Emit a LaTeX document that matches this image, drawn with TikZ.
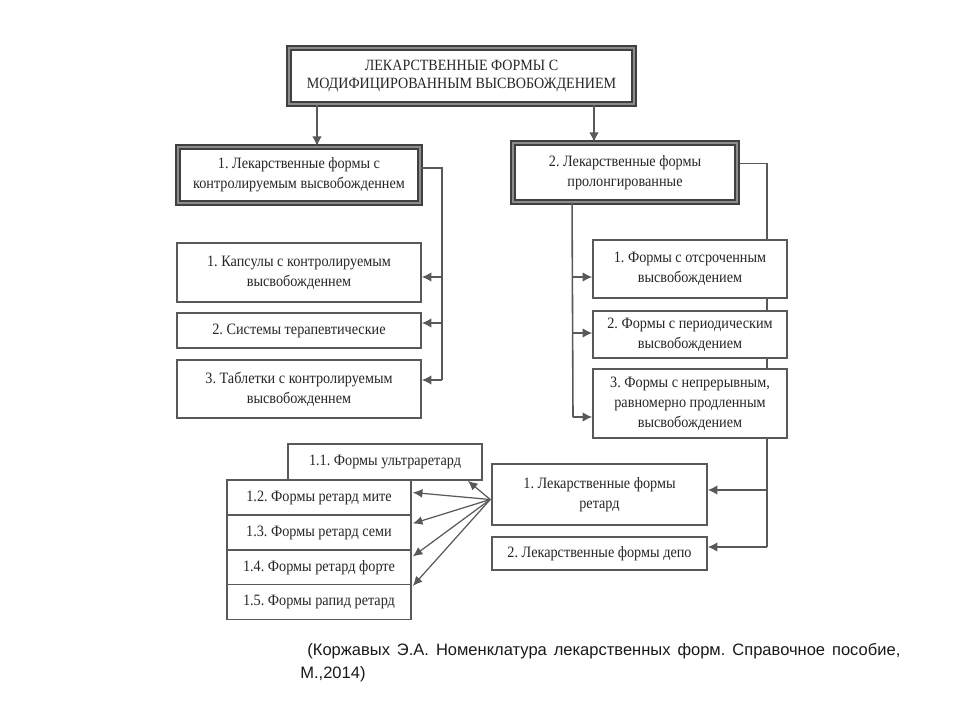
\documentclass[tikz,border=0pt]{standalone}
\usepackage{fontspec}
\setmainfont[FakeStretch=0.9]{Liberation Serif}
\newfontfamily\capfont{Liberation Sans}
\usetikzlibrary{arrows.meta,%
                calc,%
                backgrounds}
\frenchspacing

\begin{document}
\begin{tikzpicture}[x=0.2mm,y=-0.2mm]
		\tikzstyle{HeadStyle}=[draw=black!75,line width=1.1pt,double=black!45,double distance=1pt,fill=white,align=center,text=black!85,inner sep=1pt]
		\tikzstyle{BoxStyle}=[draw=black!65,line width=0.9pt,fill=white,align=center,text=black!85,inner sep=1pt,font=\fontsize{9}{11.4}\selectfont]
		\tikzstyle{EdgeStyle}=[draw=black!65,line width=0.9pt]
		\tikzstyle{ArrowStyle}=[EdgeStyle,-{Latex[length=5.5pt,width=5.5pt]}]
		\tikzstyle{FanStyle}=[draw=black!65,line width=0.7pt,-{Latex[length=5.5pt,width=5pt]}]
		\useasboundingbox (0,0) rectangle (960,720);
		\node[HeadStyle,minimum width=69mm,minimum height=11.2mm,font=\fontsize{8.9}{10.4}\selectfont] (M) at (461.5,76) {ЛЕКАРСТВЕННЫЕ ФОРМЫ С\\МОДИФИЦИРОВАННЫМ ВЫСВОБОЖДЕНИЕМ};
		\node[HeadStyle,minimum width=48.4mm,minimum height=11.2mm,font=\fontsize{9}{11.4}\selectfont] (K) at (299,175) {1. Лекарственные формы с\\контролируемым высвобожденнем};
		\node[HeadStyle,minimum width=44.8mm,minimum height=11.8mm,font=\fontsize{9}{11.4}\selectfont] (P) at (625,172.5) {2. Лекарственные формы\\пролонгированные};
		% controlled release
		\node[BoxStyle,minimum width=48.8mm,minimum height=11.8mm] (K1) at (299,272.5) {1. Капсулы с контролируемым\\высвобожденнем};
		\node[BoxStyle,minimum width=48.8mm,minimum height=7mm] (K2) at (299,330.5) {2. Системы терапевтические};
		\node[BoxStyle,minimum width=48.8mm,minimum height=11.6mm] (K3) at (299,389) {3. Таблетки с контролируемым\\высвобожденнем};
		% prolonged
		\node[BoxStyle,minimum width=38.8mm,minimum height=11.6mm] (P1) at (690,269) {1. Формы с отсроченным\\высвобождением};
		\node[BoxStyle,minimum width=38.8mm,minimum height=9.4mm] (P2) at (690,334.5) {2. Формы с периодическим\\высвобождением};
		\node[BoxStyle,minimum width=38.8mm,minimum height=13.8mm] (P3) at (690,403.5) {3. Формы с непрерывным,\\равномерно продленным\\высвобождением};
		\node[BoxStyle,minimum width=43mm,minimum height=12.2mm] (R) at (599.5,494.5) {1. Лекарственные формы\\ретард};
		\node[BoxStyle,minimum width=43mm,minimum height=6.6mm] (D) at (599.5,553.5) {2. Лекарственные формы депо};
		% retard
		\node[BoxStyle,minimum width=38.8mm,minimum height=7.2mm] (R1) at (385,462) {1.1. Формы ультраретард};
		\node[BoxStyle,minimum width=36.8mm,minimum height=7mm] (R2) at (319,497.5) {1.2. Формы ретард мите};
		\node[BoxStyle,minimum width=36.8mm,minimum height=7mm] (R3) at (319,532.5) {1.3. Формы ретард семи};
		\node[BoxStyle,minimum width=36.8mm,minimum height=7mm] (R4) at (319,567.5) {1.4. Формы ретард форте};
		\node[BoxStyle,minimum width=36.8mm,minimum height=7mm] (R5) at (319,602) {1.5. Формы рапид ретард};
		\draw[ArrowStyle] (M.south -| 317,0) -- (K.north -| 317,0);
		\draw[ArrowStyle] (M.south -| 594,0) -- (P.north -| 594,0);
		\coordinate (k1) at (442,277);
		\coordinate (k2) at (442,323);
		\coordinate (k3) at (442,380);
		\draw[EdgeStyle] ($(K.east)+(0,-7)$) -| (k3);
		\draw[ArrowStyle] (k1) -- (k1 -| K1.east);
		\draw[ArrowStyle] (k2) -- (k2 -| K2.east);
		\draw[ArrowStyle] (k3) -- (k3 -| K3.east);
		\coordinate (p1) at (573,277);
		\coordinate (p2) at (573,333);
		\coordinate (p3) at (573,417);
		\draw[EdgeStyle] ($(P.south west)+(60,0)$) -- (p3);
		\draw[ArrowStyle] (p1) -- (p1 -| P1.west);
		\draw[ArrowStyle] (p2) -- (p2 -| P2.west);
		\draw[ArrowStyle] (p3) -- (p3 -| P3.west);
		\coordinate (r1) at (767,490);
		\coordinate (r2) at (767,547);
		\begin{scope}[on background layer]
			\draw[EdgeStyle] ($(P.east)+(0,-9)$) -| (r2);
		\end{scope}
		\draw[ArrowStyle] (r1) -- (r1 -| R.east);
		\draw[ArrowStyle] (r2) -- (r2 -| D.east);
		\coordinate (f) at ($(R.west)+(-1,5)$);
		\draw[FanStyle] (f) -- ($(R1.south east)+(-15,0)$);
		\draw[FanStyle] (f) -- ($(R2.east)+(1,-5)$);
		\draw[FanStyle] (f) -- ($(R3.east)+(1,-9)$);
		\draw[FanStyle] (f) -- ($(R4.east)+(1,-11)$);
		\draw[FanStyle] (f) -- ($(R5.east)+(1,-16)$);
		\node[anchor=north west,align=left,inner sep=0pt,text=black!90,font=\capfont\fontsize{9.4}{13}\selectfont] (src) at (300,643) {\makebox[120mm][s]{\hspace*{4pt}(Коржавых Э.А. Номенклатура лекарственных форм. Справочное пособие,}\\М.,2014)};
	\end{tikzpicture}
\end{document}
